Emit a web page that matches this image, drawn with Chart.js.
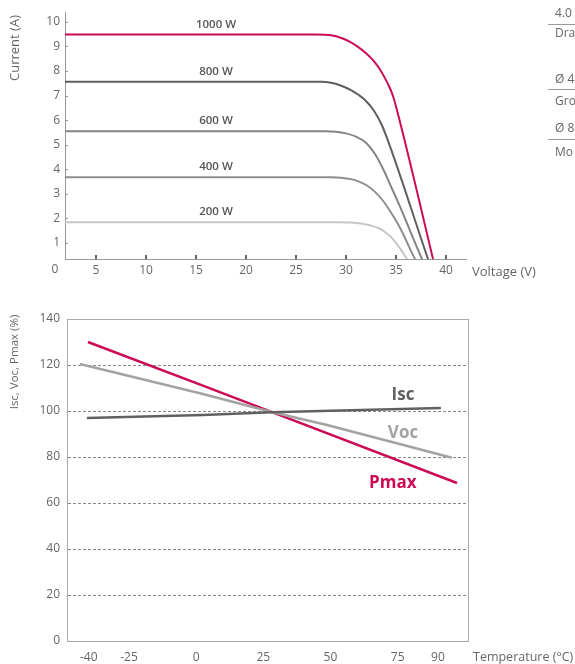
<!DOCTYPE html>
<html>
<head>
<meta charset="utf-8">
<script src="https://cdn.jsdelivr.net/npm/chart.js@4.4.1/dist/chart.umd.min.js"></script>
<style>
  html, body { margin: 0; padding: 0; background: #fff; width: 575px; height: 664px; overflow: hidden; }
  #ivWrap { position: absolute; left: 0; top: 0; width: 575px; height: 290px; }
  #tWrap { position: absolute; left: 0; top: 290px; width: 575px; height: 374px; }
  .side { position: absolute; left: 555px; font: 12px "Open Sans", sans-serif; color: #666; white-space: nowrap; line-height: 14px; }
  .rule { position: absolute; left: 548px; width: 27px; height: 1px; background: #999; }
</style>
</head>
<body>
<div id="ivWrap"><canvas id="ivChart" width="575" height="290" style="width:575px;height:290px"></canvas></div>
<div id="tWrap"><canvas id="tChart" width="575" height="374" style="width:575px;height:374px"></canvas></div>

<div class="side" style="top:6px">4.0</div>
<div class="rule" style="top:24px"></div>
<div class="side" style="top:26px">Dra</div>
<div class="side" style="top:72px">Ø 4</div>
<div class="rule" style="top:89px"></div>
<div class="side" style="top:94px">Gro</div>
<div class="side" style="top:121px">Ø 8</div>
<div class="rule" style="top:139px"></div>
<div class="side" style="top:145px">Mo</div>

<script>
// I-V curves (voltage V, current A)
const volt1000 = [0, 27, 28.5, 29.6, 30.4, 31.2, 32.0, 32.7, 33.3, 33.8, 34.3, 34.7, 35.1, 38.7, 38.9];
const curr1000 = [9.48, 9.48, 9.45, 9.33, 9.18, 8.98, 8.72, 8.44, 8.12, 7.78, 7.38, 6.98, 6.4, 0.35, 0];
const volt800 = [0, 27.5, 28.5, 29.4, 30.5, 31.2, 31.9, 32.8, 33.6, 34.5, 38.2, 38.5];
const curr800 = [7.56, 7.56, 7.52, 7.42, 7.22, 7.04, 6.82, 6.38, 5.78, 4.82, 0.35, 0];
const volt600 = [0, 28, 29, 30, 31, 32, 32.9, 33.7, 34.5, 35.4, 37.6, 38.0];
const curr600 = [5.55, 5.55, 5.53, 5.46, 5.33, 5.08, 4.62, 4.02, 3.3, 2.48, 0.35, 0];
const volt400 = [0, 28.5, 29.5, 30.5, 31.3, 32.1, 32.9, 33.7, 34.5, 35.4, 36.9, 37.4];
const curr400 = [3.68, 3.68, 3.66, 3.6, 3.5, 3.34, 3.08, 2.72, 2.24, 1.62, 0.35, 0];
const volt200 = [0, 29, 30.5, 31.5, 32.5, 33.3, 34.0, 34.6, 35.2, 35.7, 36.1, 36.5];
const curr200 = [1.85, 1.85, 1.83, 1.79, 1.71, 1.6, 1.42, 1.2, 0.9, 0.6, 0.35, 0.1];
const irrLabels = ['1000 W', '800 W', '600 W', '400 W', '200 W'];
const voltTicks = [5, 10, 15, 20, 25, 30, 35, 40];
const currTicks = [1, 2, 3, 4, 5, 6, 7, 8, 9, 10];

// temperature dependence (°C, %)
const pmaxTemp = [-40.3, 2.5, 28, 97.1];
const pmaxVal = [130, 111, 99.6, 68.7];
const vocTemp = [-43.3, 2.5, 28.1, 48.7, 72.9, 95.2];
const vocVal = [120.4, 107.4, 99.6, 93.9, 86.5, 79.7];
const iscTemp = [-40.7, 2.5, 28, 91.1];
const iscVal = [97, 98.3, 99.5, 101.3];
const tempLabels = ['Isc', 'Voc', 'Pmax'];
const tempTicks = [-40, -25, 0, 25, 50, 75, 90];

const FONT = '"Open Sans", sans-serif';
const RED = '#cc0a55';

function pts(xs, ys) {
  return xs.map((x, i) => ({ x: x, y: ys[i] }));
}

function curve(label, xs, ys, color) {
  return {
    label: label,
    data: pts(xs, ys),
    showLine: true,
    borderColor: color,
    borderWidth: 2,
    pointRadius: 0,
    cubicInterpolationMode: 'monotone'
  };
}

const ivColors = [RED, '#5f5f5f', '#858585', '#8e8e8e', '#c6c6c6'];

const ivDecor = {
  id: 'ivDecor',
  afterDatasetsDraw(chart) {
    const c = chart.ctx;
    const xs = chart.scales.x, ys = chart.scales.y;
    c.save();
    // inner tick marks
    c.strokeStyle = '#666';
    c.lineWidth = 2;
    voltTicks.forEach(v => {
      const px = Math.round(xs.getPixelForValue(v));
      c.beginPath();
      c.moveTo(px, ys.bottom);
      c.lineTo(px, ys.bottom - 4);
      c.stroke();
    });
    c.strokeStyle = '#999';
    c.lineWidth = 1;
    currTicks.forEach(v => {
      const py = Math.round(ys.getPixelForValue(v)) + 0.5;
      c.beginPath();
      c.moveTo(xs.left, py);
      c.lineTo(xs.left + 3, py);
      c.stroke();
    });
    // series labels
    c.fillStyle = '#555';
    c.font = '600 11.5px ' + FONT;
    c.textAlign = 'center';
    c.textBaseline = 'middle';
    chart.data.datasets.forEach((ds, i) => {
      const py = ys.getPixelForValue(ds.data[0].y) - 10;
      c.fillText(irrLabels[i], xs.getPixelForValue(17), py);
    });
    // origin label and axis titles
    c.fillStyle = '#666';
    c.font = '12px ' + FONT;
    c.fillText('0', xs.left - 10, ys.bottom + 11);
    c.font = '13px ' + FONT;
    c.textAlign = 'left';
    c.fillText('Voltage (V)', 472, ys.bottom + 13);
    c.translate(15, 48);
    c.rotate(-Math.PI / 2);
    c.textAlign = 'center';
    c.fillText('Current (A)', 0, 0);
    c.restore();
  }
};

new Chart(document.getElementById('ivChart'), {
  type: 'scatter',
  data: {
    datasets: [
      curve(irrLabels[0], volt1000, curr1000, ivColors[0]),
      curve(irrLabels[1], volt800, curr800, ivColors[1]),
      curve(irrLabels[2], volt600, curr600, ivColors[2]),
      curve(irrLabels[3], volt400, curr400, ivColors[3]),
      curve(irrLabels[4], volt200, curr200, ivColors[4])
    ]
  },
  options: {
    responsive: false,
    animation: false,
    layout: { padding: { left: 0, top: 12, right: 109, bottom: 0 } },
    plugins: { legend: { display: false }, tooltip: { enabled: false } },
    scales: {
      x: {
        type: 'linear',
        min: 1.9,
        max: 42,
        afterBuildTicks: s => { s.ticks = voltTicks.map(v => ({ value: v })); },
        afterFit: s => { s.height = 31; },
        grid: { display: false, drawTicks: false },
        border: { color: '#999', width: 1 },
        ticks: { color: '#666', font: { family: FONT, size: 12 }, padding: 4, maxRotation: 0, autoSkip: false }
      },
      y: {
        min: 0.35,
        max: 10.39,
        afterBuildTicks: s => { s.ticks = currTicks.map(v => ({ value: v })); },
        afterFit: s => { s.width = 65; },
        grid: { display: false, drawTicks: false },
        border: { color: '#999', width: 1 },
        ticks: { color: '#666', font: { family: FONT, size: 12 }, padding: 5 }
      }
    }
  },
  plugins: [ivDecor]
});

const tempColors = ['#606060', '#a3a3a3', RED];

const tDecor = {
  id: 'tDecor',
  afterDatasetsDraw(chart) {
    const c = chart.ctx;
    const xs = chart.scales.x, ys = chart.scales.y;
    c.save();
    c.font = 'bold 17px ' + FONT;
    c.textAlign = 'center';
    c.textBaseline = 'middle';
    const spots = [[77, 107], [77, 90.5], [73.2, 68.7]];
    tempLabels.forEach((t, i) => {
      c.fillStyle = tempColors[i];
      c.fillText(t, xs.getPixelForValue(spots[i][0]), ys.getPixelForValue(spots[i][1]));
    });
    c.fillStyle = '#666';
    c.font = '12.5px ' + FONT;
    c.textAlign = 'left';
    c.fillText('Temperature (°C)', 473, ys.bottom + 16);
    c.translate(15, 72);
    c.rotate(-Math.PI / 2);
    c.textAlign = 'center';
    c.font = '11.5px ' + FONT;
    c.fillText('Isc, Voc, Pmax (%)', 0, 0);
    c.restore();
  }
};

function tLine(label, xs, ys, color) {
  return {
    label: label,
    data: pts(xs, ys),
    showLine: true,
    borderColor: color,
    borderWidth: 2.5,
    pointRadius: 0
  };
}

new Chart(document.getElementById('tChart'), {
  type: 'scatter',
  data: {
    datasets: [
      tLine('Isc', iscTemp, iscVal, tempColors[0]),
      tLine('Voc', vocTemp, vocVal, tempColors[1]),
      tLine('Pmax', pmaxTemp, pmaxVal, tempColors[2])
    ]
  },
  options: {
    responsive: false,
    animation: false,
    layout: { padding: { left: 0, top: 29, right: 107, bottom: 0 } },
    plugins: { legend: { display: false }, tooltip: { enabled: false } },
    scales: {
      x: {
        type: 'linear',
        min: -48.1,
        max: 101.2,
        afterBuildTicks: s => { s.ticks = tempTicks.map(v => ({ value: v })); },
        afterFit: s => { s.height = 23; },
        grid: { display: false, drawTicks: false },
        border: { color: '#aaa', width: 1 },
        ticks: { color: '#666', font: { family: FONT, size: 12 }, padding: 9, maxRotation: 0, autoSkip: false }
      },
      y: {
        min: 0,
        max: 140,
        ticks: { stepSize: 20, color: '#666', font: { family: FONT, size: 12 }, padding: 7 },
        afterFit: s => { s.width = 67; },
        grid: {
          drawTicks: false,
          lineWidth: 1,
          color: ctx => (ctx.tick && ctx.tick.value > 0 && ctx.tick.value < 140) ? '#888' : '#aaa'
        },
        border: {
          color: '#aaa',
          width: 1,
          dash: ctx => (ctx.tick && ctx.tick.value > 0 && ctx.tick.value < 140) ? [3, 2] : []
        }
      },
      y2: {
        position: 'right',
        min: 0,
        max: 140,
        afterFit: s => { s.width = 0; },
        ticks: { display: false },
        grid: { display: false, drawTicks: false },
        border: { color: '#aaa', width: 1 }
      }
    }
  },
  plugins: [tDecor]
});
</script>
</body>
</html>
